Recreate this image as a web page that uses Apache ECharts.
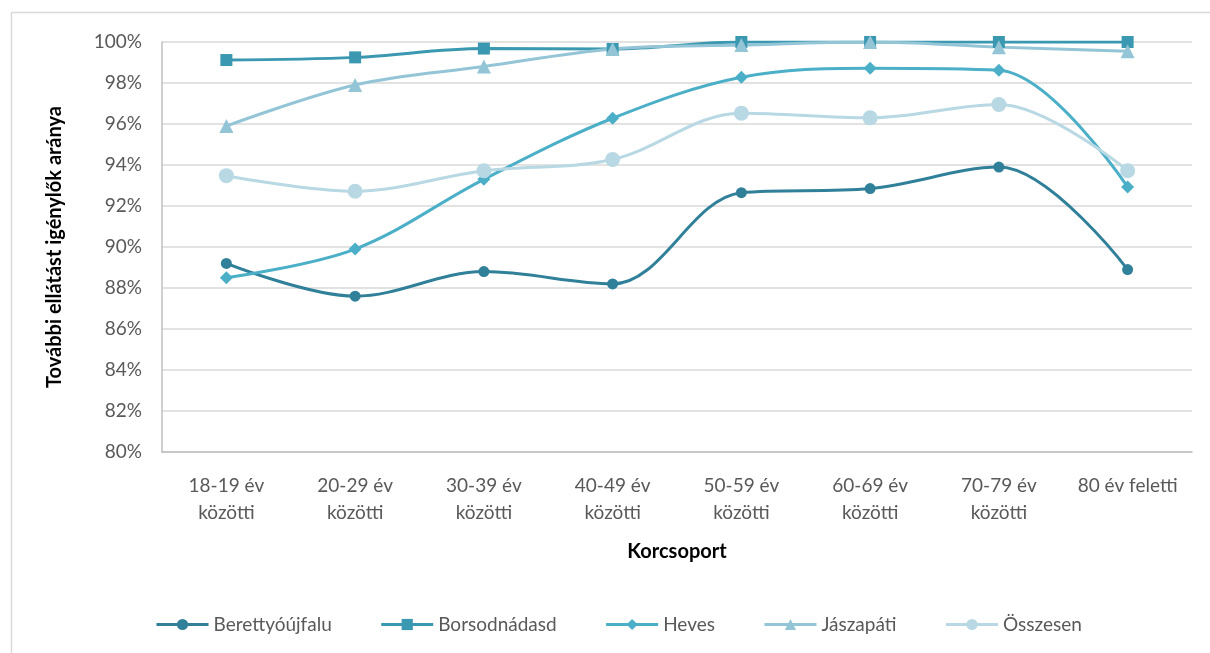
<!DOCTYPE html>
<html>
<head>
<meta charset="utf-8">
<script src="https://cdn.jsdelivr.net/npm/echarts@6/dist/echarts.min.js"></script>
<style>
  html, body { margin: 0; padding: 0; background: #ffffff; }
  #chart { width: 1210px; height: 653px; }
</style>
</head>
<body>
<div id="chart"></div>
<script>
// Age groups (x axis)
const categories = [
  '18-19 év\nközötti', '20-29 év\nközötti', '30-39 év\nközötti', '40-49 év\nközötti',
  '50-59 év\nközötti', '60-69 év\nközötti', '70-79 év\nközötti', '80 év feletti'
];

// Share of people needing further care, percent
const berettyoujfalu = [89.2, 87.6, 88.8, 88.2, 92.65, 92.85, 93.9, 88.9];
const borsodnadasd   = [99.12, 99.25, 99.68, 99.66, 100, 100, 100, 100];
const heves          = [88.5, 89.9, 93.3, 96.28, 98.28, 98.72, 98.62, 92.93];
const jaszapati      = [95.9, 97.9, 98.8, 99.66, 99.85, 100, 99.75, 99.55];
const osszesen       = [93.48, 92.72, 93.72, 94.27, 96.53, 96.3, 96.95, 93.72];

const FONT = 'Lato, "Open Sans", sans-serif';

function lineSeries(name, data, color, symbol, size) {
  return {
    name: name,
    type: 'line',
    data: data,
    smooth: 0.35,
    symbol: symbol,
    symbolSize: size,
    lineStyle: { color: color, width: 3 },
    itemStyle: { color: color, borderWidth: 0 },
    emphasis: { disabled: true }
  };
}

const chart = echarts.init(document.getElementById('chart'), null, { renderer: 'canvas' });

chart.setOption({
  animation: false,
  backgroundColor: '#ffffff',
  graphic: [{
    type: 'rect',
    shape: { x: 11.5, y: 12.5, width: 1220, height: 660 },
    style: { fill: 'none', stroke: '#d9d9d9', lineWidth: 1.5 },
    silent: true
  }],
  grid: { left: 162, right: 18, top: 42, bottom: 201, containLabel: false },
  legend: {
    bottom: 14,
    left: 150,
    itemWidth: 52,
    itemHeight: 14,
    itemGap: 48,
    lineStyle: { width: 3 },
    textStyle: { fontFamily: FONT, fontSize: 19, color: '#595959' },
    data: ['Berettyóújfalu', 'Borsodnádasd', 'Heves', 'Jászapáti', 'Összesen']
  },
  xAxis: {
    type: 'category',
    data: categories,
    boundaryGap: true,
    name: 'Korcsoport',
    nameLocation: 'middle',
    nameGap: 90,
    nameTextStyle: { fontFamily: FONT, fontSize: 20, fontWeight: 'bold', color: '#000000' },
    axisLine: { show: true, lineStyle: { color: '#bfbfbf', width: 1.5 } },
    axisTick: { show: false },
    axisLabel: { fontFamily: FONT, fontSize: 19, color: '#595959', margin: 20, lineHeight: 27, interval: 0 },
    splitLine: { show: false }
  },
  yAxis: {
    type: 'value',
    min: 80,
    max: 100,
    interval: 2,
    name: 'További ellátást igénylők aránya',
    nameLocation: 'middle',
    nameGap: 97,
    nameRotate: 90,
    nameTextStyle: { fontFamily: FONT, fontSize: 20, fontWeight: 'bold', color: '#000000' },
    axisLine: { show: true, lineStyle: { color: '#bfbfbf', width: 1.5 } },
    axisTick: { show: false },
    axisLabel: { fontFamily: FONT, fontSize: 19, color: '#595959', margin: 20, formatter: v => v + '%' },
    splitLine: { show: true, lineStyle: { color: '#d9d9d9', width: 1.5 } }
  },
  series: [
    lineSeries('Berettyóújfalu', berettyoujfalu, '#31809a', 'circle', 11),
    lineSeries('Borsodnádasd', borsodnadasd, '#3a98b1', 'rect', 12),
    lineSeries('Heves', heves, '#4bafc8', 'diamond', 13),
    lineSeries('Jászapáti', jaszapati, '#93c5d6', 'triangle', 14),
    lineSeries('Összesen', osszesen, '#b8d8e4', 'circle', 15)
  ]
});
</script>
</body>
</html>
